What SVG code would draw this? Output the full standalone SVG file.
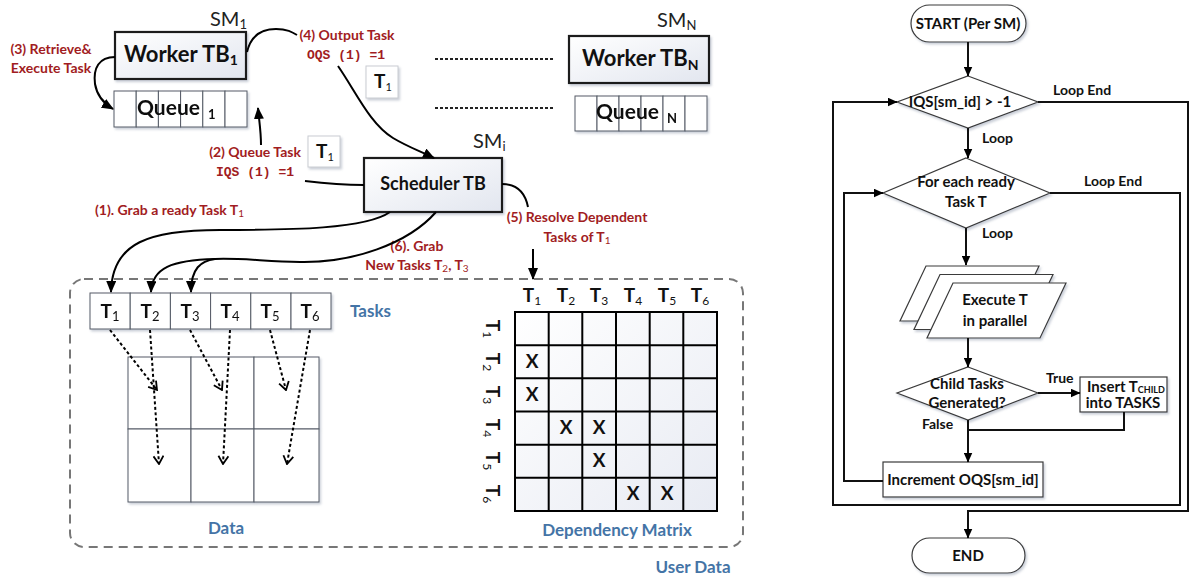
<svg xmlns="http://www.w3.org/2000/svg" width="1190" height="581" viewBox="0 0 1190 581">
  <defs>
    <linearGradient id="boxFill" x1="0" y1="0" x2="1" y2="1">
      <stop offset="0" stop-color="#ffffff"/>
      <stop offset="1" stop-color="#e2e6ef"/>
    </linearGradient>
    <linearGradient id="cellFill" x1="0" y1="0" x2="1" y2="1">
      <stop offset="0" stop-color="#ffffff"/>
      <stop offset="1" stop-color="#e8ebf3"/>
    </linearGradient>
    <filter id="shadow" x="-10%" y="-10%" width="125%" height="135%">
      <feDropShadow dx="1.5" dy="2" stdDeviation="1.2" flood-color="#8a94a8" flood-opacity="0.45"/>
    </filter>
    <marker id="arrowFill" viewBox="0 0 12 10" refX="11" refY="5" markerWidth="12" markerHeight="10" markerUnits="userSpaceOnUse" orient="auto">
      <path d="M0,0 L12,5 L0,10 z" fill="#000"/>
    </marker>
    <marker id="arrowSmall" viewBox="0 0 10 9" refX="9.5" refY="4.5" markerWidth="10" markerHeight="9" markerUnits="userSpaceOnUse" orient="auto">
      <path d="M0,0 L10,4.5 L0,9 z" fill="#000"/>
    </marker>
    <marker id="arrowOpen" viewBox="0 0 10 12" refX="9" refY="6" markerWidth="10" markerHeight="12" markerUnits="userSpaceOnUse" orient="auto">
      <path d="M1,1 L9,6 L1,11" fill="none" stroke="#000" stroke-width="1.8"/>
    </marker>
    <style>
      text { font-family: Lato, "Open Sans", "Liberation Sans", sans-serif; }
      .box { fill: url(#boxFill); stroke: #1e1e1e; stroke-width: 2.2; filter: url(#shadow); }
      .cell { fill: #ffffff; stroke: #555b66; stroke-width: 1; }
      .tag { fill: #ffffff; stroke: #c9ccd2; stroke-width: 1; filter: url(#shadow); }
      .title { font-weight: 700; fill: #111; }
      .sm { font-size: 20px; fill: #222; }
      .red { font-weight: 700; font-size: 14px; fill: #a11c22; }
      .mono { font-family: "Liberation Mono", "DejaVu Sans Mono", monospace; font-weight: 700; font-size: 13px; fill: #a11c22; }
      .blue { font-weight: 700; font-size: 17px; fill: #4474a6; }
      .tk { font-weight: 700; font-size: 19px; fill: #111; }
      .sub { font-weight: 400; }
      .wire { fill: none; stroke: #000; stroke-width: 2; }
      .dots { fill: none; stroke: #000; stroke-width: 2; stroke-dasharray: 3 2.5; }
      .dash { fill: none; stroke: #777; stroke-width: 2; stroke-dasharray: 9 6; }
      .grid { fill: url(#cellFill); stroke: #000; stroke-width: 2; }
      .fshape { fill: #ffffff; stroke: #3a3a3a; stroke-width: 1.2; filter: url(#shadow); }
      .ftext { font-weight: 700; font-size: 15px; fill: #111; }
      .flabel { font-weight: 700; font-size: 14px; fill: #111; }
      .fline { fill: none; stroke: #111; stroke-width: 2; }
    </style>
  </defs>

  <!-- user data region -->
  <rect x="70" y="279" width="673" height="268" rx="14" class="dash"/>

  <!-- SM1 worker -->
  <g id="worker1">
    <rect x="115" y="32" width="131" height="47" class="box"/>
    <text x="124" y="62" class="title" font-size="22">Worker TB<tspan font-size="14" dy="3">1</tspan></text>
    <text x="210" y="26" class="sm">SM<tspan font-size="13" dy="3">1</tspan></text>
  </g>
  <g id="queue1" filter="url(#shadow)">
    <rect x="114" y="91" width="22.2" height="36" class="cell"/>
    <rect x="136.2" y="91" width="22.2" height="36" class="cell"/>
    <rect x="158.4" y="91" width="22.2" height="36" class="cell"/>
    <rect x="180.6" y="91" width="22.2" height="36" class="cell"/>
    <rect x="202.8" y="91" width="22.2" height="36" class="cell"/>
    <rect x="225" y="91" width="22" height="36" class="cell"/>
    <text x="137" y="115" class="title" font-size="21">Queue</text>
    <text x="208" y="119" class="title" font-size="13">1</text>
  </g>

  <!-- SMN worker -->
  <g id="workerN">
    <rect x="569" y="36" width="140" height="47" class="box"/>
    <text x="582" y="66" class="title" font-size="22">Worker TB<tspan font-size="14" dy="4">N</tspan></text>
    <text x="657" y="27" class="sm">SM<tspan font-size="13" dy="3">N</tspan></text>
  </g>
  <g id="queueN" filter="url(#shadow)">
    <rect x="575" y="96" width="22" height="35" class="cell"/>
    <rect x="597" y="96" width="22" height="35" class="cell"/>
    <rect x="619" y="96" width="22" height="35" class="cell"/>
    <rect x="641" y="96" width="22" height="35" class="cell"/>
    <rect x="663" y="96" width="22" height="35" class="cell"/>
    <rect x="685" y="96" width="22" height="35" class="cell"/>
    <text x="596" y="119" class="title" font-size="21">Queue</text>
    <text x="667" y="123" class="title" font-size="13">N</text>
  </g>

  <!-- scheduler -->
  <g id="scheduler">
    <rect x="364" y="158" width="138" height="54" class="box"/>
    <text x="433" y="190" class="title" font-size="18" text-anchor="middle">Scheduler TB</text>
    <text x="473" y="148" class="sm">SM<tspan font-size="13" dy="3">i</tspan></text>
  </g>

  <!-- task tokens -->
  <g id="token-out">
    <rect x="366" y="66" width="32" height="32" class="tag"/>
    <text x="374" y="88" class="tk" font-size="17">T<tspan class="sub" font-size="11" dy="3">1</tspan></text>
  </g>
  <g id="token-in">
    <rect x="308" y="136" width="32" height="31" class="tag"/>
    <text x="316" y="158" class="tk" font-size="17">T<tspan class="sub" font-size="11" dy="3">1</tspan></text>
  </g>

  <!-- tasks array -->
  <g id="tasks" filter="url(#shadow)">
    <rect x="90" y="293" width="40.2" height="36" class="cell"/>
    <rect x="130.2" y="293" width="40.2" height="36" class="cell"/>
    <rect x="170.4" y="293" width="40.2" height="36" class="cell"/>
    <rect x="210.6" y="293" width="40.2" height="36" class="cell"/>
    <rect x="250.8" y="293" width="40.2" height="36" class="cell"/>
    <rect x="291" y="293" width="40" height="36" class="cell"/>
    <g class="tk" text-anchor="middle">
      <text x="110" y="318">T<tspan class="sub" font-size="13" dy="3">1</tspan></text>
      <text x="150" y="318">T<tspan class="sub" font-size="13" dy="3">2</tspan></text>
      <text x="190" y="318">T<tspan class="sub" font-size="13" dy="3">3</tspan></text>
      <text x="230" y="318">T<tspan class="sub" font-size="13" dy="3">4</tspan></text>
      <text x="270" y="318">T<tspan class="sub" font-size="13" dy="3">5</tspan></text>
      <text x="310" y="318">T<tspan class="sub" font-size="13" dy="3">6</tspan></text>
    </g>
  </g>
  <text x="350" y="317" class="blue">Tasks</text>

  <!-- data blocks -->
  <g id="data">
    <g filter="url(#shadow)">
      <rect x="128" y="357" width="63" height="72" class="cell"/>
      <rect x="191" y="357" width="63" height="72" class="cell"/>
      <rect x="254" y="357" width="65" height="72" class="cell"/>
      <rect x="128" y="429" width="63" height="73" class="cell"/>
      <rect x="191" y="429" width="63" height="73" class="cell"/>
      <rect x="254" y="429" width="65" height="73" class="cell"/>
    </g>
    <text x="226" y="534" class="blue" text-anchor="middle">Data</text>
  </g>

  <!-- dependency matrix -->
  <g id="matrix">
    <g class="tk" font-size="18" text-anchor="middle">
      <text x="532" y="302">T<tspan class="sub" font-size="12" dy="3">1</tspan></text>
      <text x="566" y="302">T<tspan class="sub" font-size="12" dy="3">2</tspan></text>
      <text x="599" y="302">T<tspan class="sub" font-size="12" dy="3">3</tspan></text>
      <text x="633" y="302">T<tspan class="sub" font-size="12" dy="3">4</tspan></text>
      <text x="667" y="302">T<tspan class="sub" font-size="12" dy="3">5</tspan></text>
      <text x="700" y="302">T<tspan class="sub" font-size="12" dy="3">6</tspan></text>
    </g>
    <g class="tk" font-size="18" text-anchor="middle">
      <text transform="translate(486,329) rotate(90)">T<tspan class="sub" font-size="12" dy="3">1</tspan></text>
      <text transform="translate(486,362) rotate(90)">T<tspan class="sub" font-size="12" dy="3">2</tspan></text>
      <text transform="translate(486,395) rotate(90)">T<tspan class="sub" font-size="12" dy="3">3</tspan></text>
      <text transform="translate(486,428) rotate(90)">T<tspan class="sub" font-size="12" dy="3">4</tspan></text>
      <text transform="translate(486,461) rotate(90)">T<tspan class="sub" font-size="12" dy="3">5</tspan></text>
      <text transform="translate(486,494) rotate(90)">T<tspan class="sub" font-size="12" dy="3">6</tspan></text>
    </g>
    <rect x="515" y="312" width="202" height="199" class="grid"/>
    <path d="M548.7,312 V511 M582.3,312 V511 M616,312 V511 M649.7,312 V511 M683.3,312 V511 M515,345.2 H717 M515,378.3 H717 M515,411.5 H717 M515,444.7 H717 M515,477.8 H717" fill="none" stroke="#000" stroke-width="2"/>
    <g class="tk" font-size="17" text-anchor="middle">
      <text x="532" y="368">X</text>
      <text x="532" y="401">X</text>
      <text x="566" y="434">X</text>
      <text x="599" y="434">X</text>
      <text x="599" y="467">X</text>
      <text x="633" y="500">X</text>
      <text x="667" y="500">X</text>
    </g>
    <text x="617" y="536" class="blue" text-anchor="middle">Dependency Matrix</text>
  </g>
  <text x="693" y="573" class="blue" text-anchor="middle">User Data</text>

  <!-- step labels -->
  <g id="labels">
    <text x="51" y="54" class="red" text-anchor="middle">(3) Retrieve&amp;</text>
    <text x="51" y="73" class="red" text-anchor="middle">Execute Task</text>
    <text x="347" y="40" class="red" text-anchor="middle">(4) Output Task</text>
    <text x="346" y="59" class="mono" text-anchor="middle">OQS (1) =1</text>
    <text x="255" y="157" class="red" text-anchor="middle">(2) Queue Task</text>
    <text x="255" y="176" class="mono" text-anchor="middle">IQS (1) =1</text>
    <text x="95" y="215" class="red">(1). Grab a ready Task T<tspan class="sub" font-size="10" dy="2">1</tspan></text>
    <text x="417" y="251" class="red" text-anchor="middle">(6). Grab</text>
    <text x="417" y="270" class="red" text-anchor="middle">New Tasks T<tspan class="sub" font-size="10" dy="2">2</tspan><tspan dy="-2">, T</tspan><tspan class="sub" font-size="10" dy="2">3</tspan></text>
    <text x="577" y="222" class="red" text-anchor="middle">(5) Resolve Dependent</text>
    <text x="577" y="242" class="red" text-anchor="middle">Tasks of T<tspan class="sub" font-size="10" dy="2">1</tspan></text>
  </g>

  <!-- connectors -->
  <g id="connectors">
    <path d="M115,57 C99,57 93,68 95,84 C97,96 103,103 113,109" class="wire" marker-end="url(#arrowFill)"/>
    <path d="M247,52 C251,35 262,29 276,29 C287,29 292,32 297,35" class="wire"/>
    <path d="M338,66 C356,92 370,124 393,138 C408,147 420,151 434,158" class="wire" marker-end="url(#arrowFill)"/>
    <path d="M261,145 C261,131 259,120 258,108" class="wire" marker-end="url(#arrowFill)"/>
    <path d="M305,181 C330,184 345,185 364,185" class="wire"/>
    <path d="M502,184 C516,184 525,192 528,207" class="wire"/>
    <path d="M533,249 V279" class="wire" marker-end="url(#arrowFill)"/>
    <path d="M390,212 C366,229 292,230 220,230 C150,230 112,242 111,292" class="wire" marker-end="url(#arrowFill)"/>
    <path d="M436,212 C408,244 352,263 300,262 C262,261 240,258 215,259 C172,260 152,268 151,292" class="wire" marker-end="url(#arrowFill)"/>
    <path d="M215,259 C201,261 191,268 191,292" class="wire" marker-end="url(#arrowFill)"/>
    <path d="M435,59 H553 M435,108 H553" fill="none" stroke="#222" stroke-width="2" stroke-dasharray="3 2"/>
    <path d="M110,330 L157,390" class="dots" marker-end="url(#arrowOpen)"/>
    <path d="M150,330 L159,464" class="dots" marker-end="url(#arrowOpen)"/>
    <path d="M190,330 L222,390" class="dots" marker-end="url(#arrowOpen)"/>
    <path d="M230,330 L223,464" class="dots" marker-end="url(#arrowOpen)"/>
    <path d="M270,330 L286,390" class="dots" marker-end="url(#arrowOpen)"/>
    <path d="M310,330 L287,464" class="dots" marker-end="url(#arrowOpen)"/>
  </g>

  <!-- flowchart -->
  <g id="start">
    <rect x="911" y="5" width="115" height="37" rx="18.5" class="fshape"/>
    <text x="968" y="29" class="ftext" text-anchor="middle">START (Per SM)</text>
  </g>
  <g id="outer-loop">
    <polygon points="968,76 1038,102 968,128 897,102" class="fshape"/>
    <text x="960" y="107" class="ftext" text-anchor="middle">IQS[sm_id] &gt; -1</text>
  </g>
  <g id="inner-loop">
    <polygon points="966,158 1050,193 966,228 883,193" class="fshape"/>
    <text x="966" y="187" class="ftext" text-anchor="middle">For each ready</text>
    <text x="966" y="207" class="ftext" text-anchor="middle">Task T</text>
  </g>
  <g id="execute">
    <polygon points="926,266 1039,266 1013,321 900,321" class="fshape"/>
    <polygon points="940,274.5 1053,274.5 1027,329.5 914,329.5" class="fshape"/>
    <polygon points="953,283 1066,283 1040,338 927,338" class="fshape"/>
    <text x="995" y="305" class="ftext" text-anchor="middle">Execute T</text>
    <text x="995" y="326" class="ftext" text-anchor="middle">in parallel</text>
  </g>
  <g id="child-check">
    <polygon points="968,367 1038,393 968,420 897,393" class="fshape"/>
    <text x="967" y="389" class="ftext" text-anchor="middle">Child Tasks</text>
    <text x="967" y="408" class="ftext" text-anchor="middle">Generated?</text>
  </g>
  <g id="insert-child">
    <rect x="1080" y="377" width="87" height="35" class="fshape"/>
    <text x="1087" y="392" class="ftext" font-size="14">Insert T<tspan font-size="9" dy="1">CHILD</tspan></text>
    <text x="1123" y="408" class="ftext" font-size="14" text-anchor="middle">into TASKS</text>
  </g>
  <g id="increment">
    <rect x="883" y="462" width="160" height="35" class="fshape"/>
    <text x="963" y="485" class="ftext" text-anchor="middle">Increment OQS[sm_id]</text>
  </g>
  <g id="end">
    <rect x="912" y="538" width="113" height="35" rx="17.5" class="fshape"/>
    <text x="968" y="561" class="ftext" text-anchor="middle">END</text>
  </g>

  <g id="flow-connectors">
    <path d="M968,42 V76" class="fline" marker-end="url(#arrowSmall)"/>
    <path d="M1038,102 H1188 V511 H968 V538" class="fline" marker-end="url(#arrowSmall)"/>
    <path d="M968,128 V158" class="fline" marker-end="url(#arrowSmall)"/>
    <path d="M1050,193 H1180 V505 H833 V102 H897" class="fline" marker-end="url(#arrowSmall)"/>
    <path d="M966,228 V265" class="fline" marker-end="url(#arrowSmall)"/>
    <path d="M968,338 V367" class="fline" marker-end="url(#arrowSmall)"/>
    <path d="M1038,393 H1080" class="fline" marker-end="url(#arrowSmall)"/>
    <path d="M1124,412 V430 H968" class="fline"/>
    <path d="M968,420 V462" class="fline" marker-end="url(#arrowSmall)"/>
    <path d="M883,481 H844 V193 H883" class="fline" marker-end="url(#arrowSmall)"/>
    <g class="flabel">
      <text x="1053" y="95">Loop End</text>
      <text x="982" y="143">Loop</text>
      <text x="1084" y="186">Loop End</text>
      <text x="982" y="238">Loop</text>
      <text x="1046" y="383">True</text>
      <text x="922" y="429">False</text>
    </g>
  </g>
</svg>
